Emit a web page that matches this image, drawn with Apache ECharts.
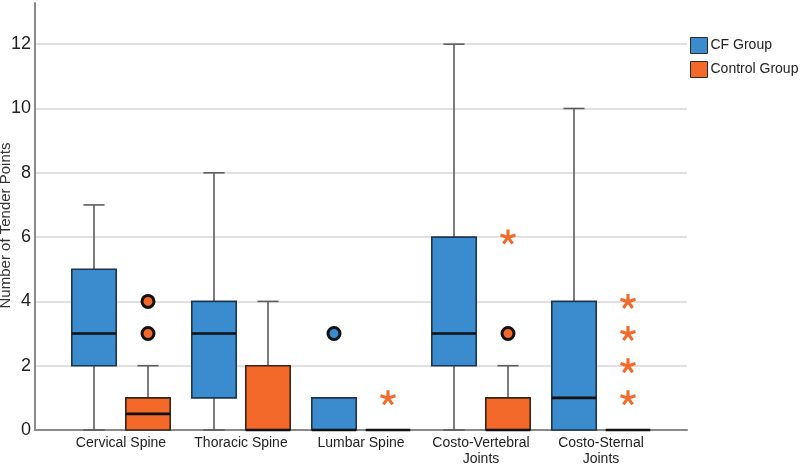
<!DOCTYPE html>
<html>
<head>
<meta charset="utf-8">
<script src="https://cdn.jsdelivr.net/npm/echarts@6/dist/echarts.min.js"></script>
<style>html,body{margin:0;padding:0;background:#fff}#c{width:800px;height:465px}</style>
</head>
<body>
<div id="c"></div>
<script>
// ---- data ----
const categories = ['Cervical Spine', 'Thoracic Spine', 'Lumbar Spine', 'Costo-Vertebral\nJoints', 'Costo-Sternal\nJoints'];
// [min, Q1, median, Q3, max]
const cfBox   = [[0, 2, 3, 5, 7], [0, 1, 3, 4, 8], [0, 0, 0, 1, 1], [0, 2, 3, 6, 12], [0, 0, 1, 4, 10]];
const ctrlBox = [[0, 0, 0.5, 1, 2], [0, 0, 0, 2, 4], [0, 0, 0, 0, 0], [0, 0, 0, 1, 2], [0, 0, 0, 0, 0]];
// outliers [categoryIndex, value]
const cfOutliers = [[2, 3]];
const ctrlOutliers = [[0, 3], [0, 4], [3, 3]];
const ctrlExtremes = [[2, 1], [3, 6], [4, 1], [4, 2], [4, 3], [4, 4]];
const seriesNames = ['CF Group', 'Control Group'];

const BLUE = '#3b8bcf', ORANGE = '#f2692a';
const FONT = '"Liberation Sans", Arial, sans-serif';

function asteriskPath() {
  let s = '';
  const w = 0.2;
  for (let k = 0; k < 5; k++) {
    const a = Math.PI / 2 + k * 2 * Math.PI / 5;
    const dx = Math.cos(a), dy = -Math.sin(a);
    const nx = -dy, ny = dx;
    const pts = [[nx * w, ny * w], [dx + nx * w, dy + ny * w], [dx - nx * w, dy - ny * w], [-nx * w, -ny * w]];
    s += 'M' + pts.map(p => (p[0] * 10 + 10).toFixed(2) + ',' + (p[1] * 10 + 10).toFixed(2)).join('L') + 'Z';
  }
  return 'path://' + s;
}

function makeRender(offRatio, fill, stroke) {
  return function (params, api) {
    const idx = api.value(0);
    const mn = api.value(1), q1 = api.value(2), md = api.value(3), q3 = api.value(4), mx = api.value(5);
    const bw = api.size([1, 0])[0];
    const x = api.coord([idx, 0])[0] + offRatio * bw;
    const half = 0.185 * bw, cap = 0.088 * bw;
    const y = v => api.coord([idx, v])[1];
    const wStyle = { stroke: '#5c5c5c', lineWidth: 1.6 };
    const ch = [];
    if (mx > q3) {
      ch.push({ type: 'line', shape: { x1: x, y1: y(mx), x2: x, y2: y(q3) }, style: wStyle });
      ch.push({ type: 'line', shape: { x1: x - cap, y1: y(mx), x2: x + cap, y2: y(mx) }, style: wStyle });
    }
    if (mn < q1) {
      ch.push({ type: 'line', shape: { x1: x, y1: y(q1), x2: x, y2: y(mn) }, style: wStyle });
      ch.push({ type: 'line', shape: { x1: x - cap, y1: y(mn), x2: x + cap, y2: y(mn) }, style: wStyle });
    }
    ch.push({ type: 'rect', shape: { x: x - half, y: y(q3), width: 2 * half, height: y(q1) - y(q3) },
      style: { fill: fill, stroke: stroke, lineWidth: 1.6 } });
    ch.push({ type: 'line', shape: { x1: x - half, y1: y(md), x2: x + half, y2: y(md) },
      style: { stroke: '#111', lineWidth: 2.6 } });
    return { type: 'group', children: ch };
  };
}

const chart = echarts.init(document.getElementById('c'), null, { renderer: 'canvas' });
const Y_MAX = 13.28;
chart.setOption({
  animation: false,
  color: [BLUE, ORANGE],
  textStyle: { fontFamily: FONT },
  grid: [
    { left: 35, right: 113, top: 3, bottom: 35, containLabel: false, outerBoundsMode: 'none' },
    { left: 61, right: 139, top: 3, bottom: 35, containLabel: false, outerBoundsMode: 'none' }
  ],
  legend: {
    data: seriesNames,
    orient: 'vertical',
    left: 690, top: 37, padding: 0,
    itemWidth: 17, itemHeight: 16, itemGap: 7,
    icon: 'rect',
    itemStyle: { borderColor: '#2a2a2a', borderWidth: 1 },
    textStyle: { fontSize: 14, color: '#222', fontFamily: FONT, padding: [0, 0, 0, -2] }
  },
  xAxis: [
    { gridIndex: 0, type: 'value', min: 0, max: 1, axisLabel: { show: false }, axisTick: { show: false },
      splitLine: { show: false }, axisLine: { show: true, lineStyle: { color: '#8a8a8a', width: 2 } } },
    { gridIndex: 1, type: 'category', data: categories, axisLine: { show: false }, axisTick: { show: false },
      axisLabel: { fontSize: 14, color: '#222', fontFamily: FONT, margin: 5, lineHeight: 16, interval: 0 } }
  ],
  yAxis: [
    { gridIndex: 0, type: 'value', min: 0, max: Y_MAX, interval: 2,
      name: 'Number of Tender Points', nameLocation: 'middle', nameGap: 22, nameMoveOverlap: false,
      nameTextStyle: { fontSize: 15, color: '#333', fontFamily: FONT, padding: [0, 0, 0, -18] },
      axisLine: { show: true, lineStyle: { color: '#8a8a8a', width: 2 } },
      axisTick: { show: false },
      axisLabel: { fontSize: 18, color: '#222', fontFamily: FONT, margin: 4, showMaxLabel: false },
      splitLine: { show: true, showMaxLine: false, showMinLine: false, lineStyle: { color: '#d6d6d6', width: 1.6 } } },
    { gridIndex: 1, type: 'value', min: 0, max: Y_MAX, show: false, splitLine: { show: false } }
  ],
  series: [
    { name: seriesNames[0], type: 'custom', xAxisIndex: 1, yAxisIndex: 1,
      itemStyle: { color: BLUE },
      renderItem: makeRender(-0.225, BLUE, '#1d3550'),
      encode: { x: 0, y: [1, 2, 3, 4, 5] },
      data: cfBox.map((b, i) => [i].concat(b)), z: 3 },
    { name: seriesNames[1], type: 'custom', xAxisIndex: 1, yAxisIndex: 1,
      itemStyle: { color: ORANGE },
      renderItem: makeRender(0.225, ORANGE, '#3a2418'),
      encode: { x: 0, y: [1, 2, 3, 4, 5] },
      data: ctrlBox.map((b, i) => [i].concat(b)), z: 3 },
    { name: 'cfOut', type: 'scatter', xAxisIndex: 1, yAxisIndex: 1, data: cfOutliers,
      symbol: 'circle', symbolSize: 12, symbolOffset: [-27, 0],
      itemStyle: { color: BLUE, borderColor: '#111', borderWidth: 3, opacity: 1 }, z: 4 },
    { name: 'ctrlOut', type: 'scatter', xAxisIndex: 1, yAxisIndex: 1, data: ctrlOutliers,
      symbol: 'circle', symbolSize: 12, symbolOffset: [27, 0],
      itemStyle: { color: ORANGE, borderColor: '#111', borderWidth: 3, opacity: 1 }, z: 4 },
    { name: 'ctrlExt', type: 'scatter', xAxisIndex: 1, yAxisIndex: 1, data: ctrlExtremes,
      symbol: asteriskPath(), symbolSize: [16, 15], symbolOffset: [27, 0],
      itemStyle: { color: ORANGE, opacity: 1 }, z: 4 }
  ]
});
</script>
</body>
</html>
